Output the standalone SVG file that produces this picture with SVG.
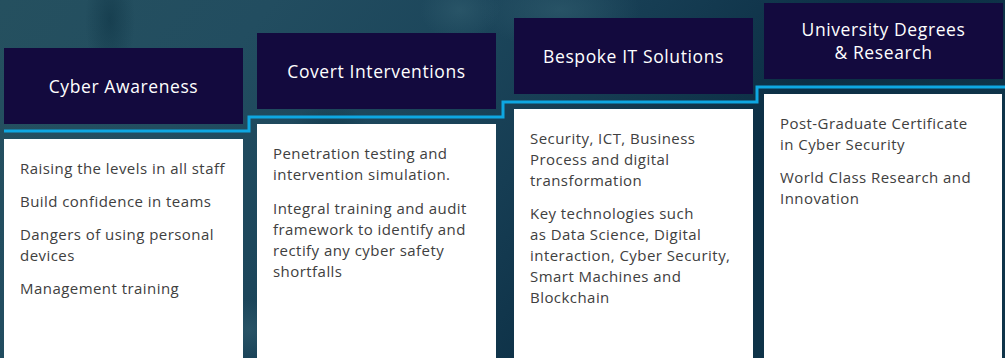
<svg xmlns="http://www.w3.org/2000/svg" width="1005" height="358" viewBox="0 0 1005 358">
  <defs>
    <linearGradient id="bg" x1="0" y1="0" x2="1" y2="0.3">
      <stop offset="0" stop-color="#25505f"/>
      <stop offset="0.25" stop-color="#224d60"/>
      <stop offset="0.45" stop-color="#1c465b"/>
      <stop offset="0.6" stop-color="#163d53"/>
      <stop offset="0.8" stop-color="#0c2f45"/>
      <stop offset="1" stop-color="#0f3449"/>
    </linearGradient>
    <radialGradient id="dark1" cx="0.5" cy="0.5" r="0.5">
      <stop offset="0" stop-color="#0f3546" stop-opacity="0.6"/>
      <stop offset="1" stop-color="#0f3546" stop-opacity="0"/>
    </radialGradient>
    <radialGradient id="light1" cx="0.5" cy="0.5" r="0.5">
      <stop offset="0" stop-color="#2e5a6c" stop-opacity="0.7"/>
      <stop offset="1" stop-color="#2e5a6c" stop-opacity="0"/>
    </radialGradient>
    <style>
      .hdr { fill: #130a3e; }
      .body { fill: #ffffff; }
      .ht { font-family: "Open Sans", Lato, sans-serif; font-size: 17.5px; letter-spacing: 0.6px; fill: #ffffff; text-anchor: middle; }
      .bt { font-family: "Open Sans", Lato, sans-serif; font-size: 15px; letter-spacing: 0.45px; fill: #404040; }
      .step { fill: none; stroke: #0ea7e2; stroke-width: 3; }
    </style>
  </defs>

  <rect width="1005" height="358" fill="url(#bg)"/>
  <ellipse cx="110" cy="20" rx="25" ry="60" fill="url(#dark1)"/>
  <ellipse cx="330" cy="130" rx="40" ry="25" fill="url(#dark1)"/>
  <ellipse cx="560" cy="10" rx="80" ry="40" fill="url(#light1)"/>
  <ellipse cx="460" cy="10" rx="40" ry="30" fill="url(#light1)"/>
  <ellipse cx="250" cy="330" rx="30" ry="30" fill="url(#light1)"/>

  <g id="connectors">
    <path class="step" d="M4,131 H249 V117 H503 V102 H757 V87 H1005"/>
  </g>

  <g id="node-cyber-awareness">
    <rect class="hdr" x="4" y="48" width="239" height="76"/>
    <text class="ht" x="123.5" y="93">Cyber Awareness</text>
    <rect class="body" x="4" y="139" width="239" height="219"/>
    <text class="bt" x="20" y="174">Raising the levels in all staff</text>
    <text class="bt" x="20" y="207">Build confidence in teams</text>
    <text class="bt" x="20" y="240">Dangers of using personal</text>
    <text class="bt" x="20" y="261">devices</text>
    <text class="bt" x="20" y="294">Management training</text>
  </g>

  <g id="node-covert-interventions">
    <rect class="hdr" x="257" y="33" width="239" height="76"/>
    <text class="ht" x="376.5" y="78">Covert Interventions</text>
    <rect class="body" x="257" y="124" width="239" height="234"/>
    <text class="bt" x="273" y="159">Penetration testing and</text>
    <text class="bt" x="273" y="180">intervention simulation.</text>
    <text class="bt" x="273" y="214">Integral training and audit</text>
    <text class="bt" x="273" y="235">framework to identify and</text>
    <text class="bt" x="273" y="256">rectify any cyber safety</text>
    <text class="bt" x="273" y="277">shortfalls</text>
  </g>

  <g id="node-bespoke-it">
    <rect class="hdr" x="514" y="18" width="239" height="76"/>
    <text class="ht" x="633.5" y="63">Bespoke IT Solutions</text>
    <rect class="body" x="514" y="109" width="239" height="249"/>
    <text class="bt" x="530" y="144">Security, ICT, Business</text>
    <text class="bt" x="530" y="165">Process and digital</text>
    <text class="bt" x="530" y="186">transformation</text>
    <text class="bt" x="530" y="219">Key technologies such</text>
    <text class="bt" x="530" y="240">as Data Science, Digital</text>
    <text class="bt" x="530" y="261">interaction, Cyber Security,</text>
    <text class="bt" x="530" y="282">Smart Machines and</text>
    <text class="bt" x="530" y="303">Blockchain</text>
  </g>

  <g id="node-university">
    <rect class="hdr" x="764" y="3" width="239" height="76"/>
    <text class="ht" x="883.5" y="35.5">University Degrees</text>
    <text class="ht" x="883.5" y="58.5">&amp; Research</text>
    <rect class="body" x="764" y="94" width="238" height="264"/>
    <text class="bt" x="780" y="129">Post-Graduate Certificate</text>
    <text class="bt" x="780" y="150">in Cyber Security</text>
    <text class="bt" x="780" y="183">World Class Research and</text>
    <text class="bt" x="780" y="204">Innovation</text>
  </g>
</svg>
